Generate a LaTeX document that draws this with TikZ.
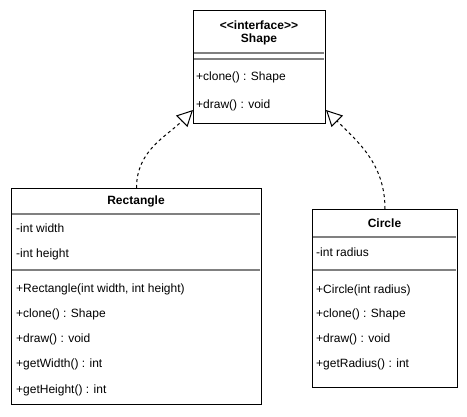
\documentclass[tikz,border=0pt]{standalone}
\usepackage{fontspec}
\newfontfamily\umlfont{Liberation Sans}
\usetikzlibrary{arrows.meta,calc}
\begin{document}
\begin{tikzpicture}[x=1pt,y=-1pt,
  box/.style={draw=black, line width=1pt, fill=white, anchor=north west, inner sep=0pt},
  sepline/.style={draw={rgb,255:red,128;green,128;blue,128}, line width=1.5pt},
  txt/.style={anchor=west, inner sep=0pt, font=\umlfont\fontsize{12}{14}\selectfont},
  ttl/.style={anchor=center, inner sep=0pt, font=\umlfont\bfseries\fontsize{12}{14}\selectfont},
  dep/.style={line width=1pt, dash pattern=on 3pt off 3pt,
    -{Triangle[open, length=16pt, width=16pt, line width=1pt]}}]
\useasboundingbox (0,0) rectangle (467,417);
\fill[white] (0,0) rectangle (467,417);

% Shape interface
\node[box, minimum width=132pt, minimum height=113pt] (shape) at (193,10) {};
\draw[sepline] (194,53) -- (324,53);
\draw[sepline] (194,59) -- (324,59);
\node[ttl] (shapestereo) at (259,25) {<{}<interface>{}>};
\node[ttl] (shapename) at (259,39) {Shape};
\node[txt] (shapem1) at (196,77.5) {+clone() : Shape};
\node[txt] (shapem2) at (196,105.5) {+draw() : void};

% Rectangle
\node[box, minimum width=250pt, minimum height=216pt] (rect) at (11,188) {};
\draw[sepline] (12,214) -- (260,214);
\draw[sepline] (12,270) -- (260,270);
\node[ttl] (rectname) at (136,201.5) {Rectangle};
\node[txt] (recta1) at (16,228) {-int width};
\node[txt] (recta2) at (16,254) {-int height};
\node[txt] (rectm1) at (16,289) {+Rectangle(int width, int height)};
\node[txt] (rectm2) at (16,314) {+clone() : Shape};
\node[txt] (rectm3) at (16,339) {+draw() : void};
\node[txt] (rectm4) at (16,364) {+getWidth() : int};
\node[txt] (rectm5) at (16,390) {+getHeight() : int};

% Circle
\node[box, minimum width=145pt, minimum height=178pt] (circ) at (312,209) {};
\draw[sepline] (313,237) -- (456,237);
\draw[sepline] (313,270) -- (456,270);
\node[ttl] (circname) at (384.5,223.5) {Circle};
\node[txt] (circa1) at (316,252) {-int radius};
\node[txt] (circm1) at (316,290) {+Circle(int radius)};
\node[txt] (circm2) at (316,314) {+clone() : Shape};
\node[txt] (circm3) at (316,339) {+draw() : void};
\node[txt] (circm4) at (316,364) {+getRadius() : int};

% Realizations
\coordinate (tipL) at ($(shape.south west)+(0,-14)$);
\coordinate (tipR) at ($(shape.south east)+(0,-14)$);
\draw[dep] (rect.north) to[out=90,in=225] (tipL);
\draw[dep] (circ.north) to[out=90,in=-45] (tipR);
\end{tikzpicture}
\end{document}
